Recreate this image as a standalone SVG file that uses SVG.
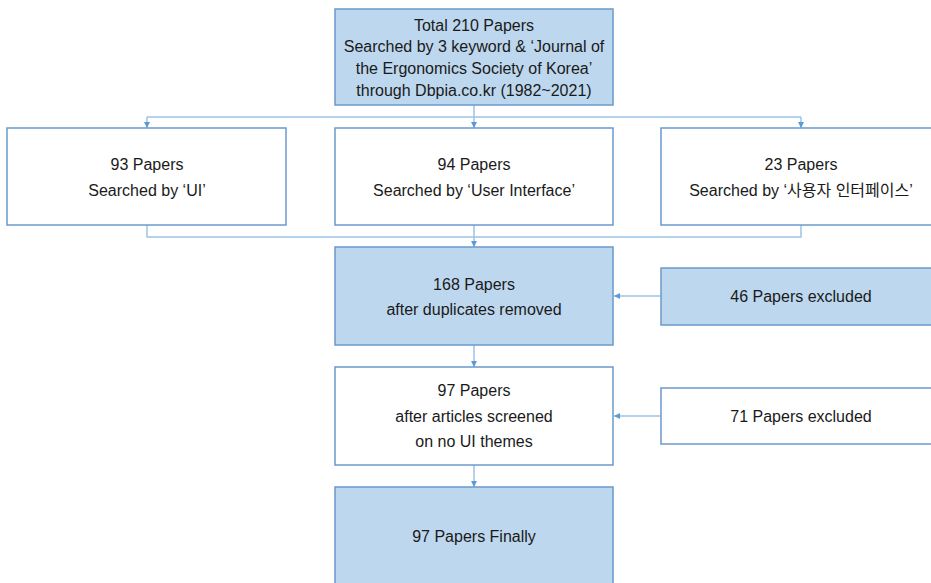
<svg xmlns="http://www.w3.org/2000/svg" width="931" height="583" viewBox="0 0 931 583">
<style>
.box{stroke:#6B9BCB;stroke-width:1.5}
.blue{fill:#BDD7EE}
.white{fill:#FFFFFF}
text{font-family:"Liberation Sans",Arial,sans-serif;font-size:16px;fill:#1a1a1a;text-anchor:middle}
.ln{fill:none;stroke:#9DC3E6;stroke-width:1.5}
.ar{fill:none;stroke:#9DC3E6;stroke-width:1.5;marker-end:url(#ah)}
</style>
<defs>
<marker id="ah" viewBox="0 0 10 10" refX="10" refY="5" markerWidth="4" markerHeight="4" orient="auto" markerUnits="strokeWidth">
<path d="M0,0 L10,5 L0,10 z" fill="#5B9BD5"/>
</marker>
</defs>
<rect width="931" height="583" fill="#FFFFFF"/>
<g id="connectors">
<line class="ar" x1="474" y1="105" x2="474" y2="128"/>
<line class="ln" x1="147" y1="117" x2="801" y2="117"/>
<line class="ar" x1="147" y1="117" x2="147" y2="128"/>
<line class="ar" x1="801" y1="117" x2="801" y2="128"/>
<polyline class="ln" points="147,225 147,237 801,237 801,225"/>
<line class="ar" x1="474" y1="225" x2="474" y2="247"/>
<line class="ar" x1="661" y1="296" x2="614" y2="296"/>
<line class="ar" x1="474" y1="345" x2="474" y2="367"/>
<line class="ar" x1="661" y1="416" x2="614" y2="416"/>
<line class="ar" x1="474" y1="465" x2="474" y2="487"/>
</g>
<g id="total">
<rect class="box blue" x="335" y="9" width="278" height="96"/>
<text x="474" y="31">Total 210 Papers</text>
<text x="474" y="52">Searched by 3 keyword &amp; ‘Journal of</text>
<text x="474" y="74">the Ergonomics Society of Korea’</text>
<text x="474" y="96">through Dbpia.co.kr (1982~2021)</text>
</g>
<g id="ui">
<rect class="box white" x="7" y="128" width="279" height="97"/>
<text x="147" y="170">93 Papers</text>
<text x="147" y="196">Searched by ‘UI’</text>
</g>
<g id="userinterface">
<rect class="box white" x="335" y="128" width="278" height="97"/>
<text x="474" y="170">94 Papers</text>
<text x="474" y="196">Searched by ‘User Interface’</text>
</g>
<g id="korean">
<rect class="box white" x="661" y="128" width="280" height="97"/>
<text x="801" y="170">23 Papers</text>
<text x="801" y="196" style="font-family:'Liberation Sans','Noto Sans CJK KR',sans-serif">Searched by ‘사용자 인터페이스’</text>
</g>
<g id="dup">
<rect class="box blue" x="335" y="247" width="278" height="98"/>
<text x="474" y="290">168 Papers</text>
<text x="474" y="315">after duplicates removed</text>
</g>
<g id="excl46">
<rect class="box blue" x="661" y="268" width="280" height="57"/>
<text x="801" y="302">46 Papers excluded</text>
</g>
<g id="screened">
<rect class="box white" x="335" y="367" width="278" height="98"/>
<text x="474" y="396">97 Papers</text>
<text x="474" y="422">after articles screened</text>
<text x="474" y="447">on no UI themes</text>
</g>
<g id="excl71">
<rect class="box white" x="661" y="388" width="280" height="56"/>
<text x="801" y="422">71 Papers excluded</text>
</g>
<g id="final">
<rect class="box blue" x="335" y="487" width="278" height="110"/>
<text x="474" y="542">97 Papers Finally</text>
</g>
</svg>
